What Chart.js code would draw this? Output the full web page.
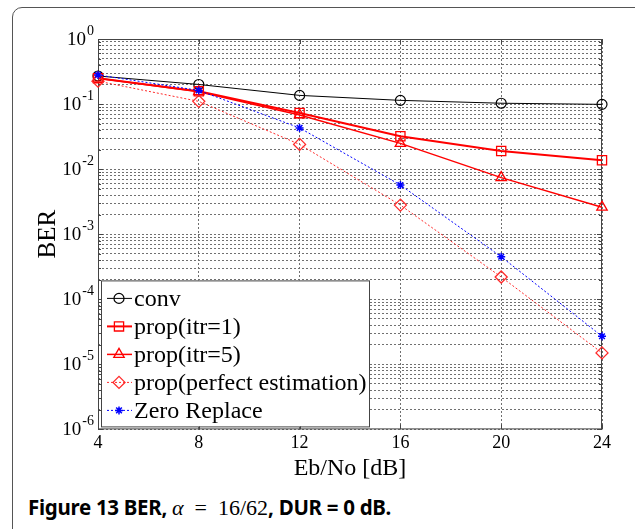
<!DOCTYPE html>
<html>
<head>
<meta charset="utf-8">
<script src="https://cdn.jsdelivr.net/npm/chart.js@4.4.0/dist/chart.umd.min.js"></script>
<style>
  html, body { margin: 0; padding: 0; background: #fff; }
  body { width: 635px; height: 529px; position: relative; overflow: hidden; }
  #frame { position: absolute; left: 12px; top: 7px; width: 700px; height: 540px; border: 1px solid #555; border-radius: 10px; }
  #wrap { position: absolute; left: 0; top: 0; width: 635px; height: 485px; }
  #caption { position: absolute; left: 28px; top: 493px; font-family: 'Noto Sans', sans-serif; font-weight: bold; font-size: 20.5px; color: #000; white-space: nowrap; letter-spacing: -0.3px; }
  #caption .m { font-family: 'Liberation Serif', serif; font-weight: normal; font-size: 22px; letter-spacing: 0; }
</style>
</head>
<body>
<div id="frame"></div>
<div id="wrap"><canvas id="berChart" width="635" height="485"></canvas></div>
<div id="caption">Figure 13 BER, <span class="m"><i>α</i>&nbsp;&nbsp;=&nbsp;&nbsp;16/62</span>, DUR = 0 dB.</div>
<script>
// Eb/No points and BER per scheme
const ebNo = [4, 8, 12, 16, 20, 24];
const berConv = [0.27, 0.20, 0.136, 0.114, 0.103, 0.099];
const berItr1 = [0.25, 0.157, 0.073, 0.032, 0.019, 0.0137];
const berItr5 = [0.25, 0.155, 0.068, 0.0249, 0.0074, 0.0026];
const berPerfect = [0.225, 0.11, 0.024, 0.0028, 0.00022, 0.000015];
const berZero = [0.28, 0.162, 0.043, 0.0057, 0.00045, 0.000027];
const seriesNames = ['conv', 'prop(itr=1)', 'prop(itr=5)', 'prop(perfect estimation)', 'Zero Replace'];
const yDecades = [-6, -5, -4, -3, -2, -1, 0];

const toPoints = vals => ebNo.map((x, i) => ({x: x, y: vals[i]}));
const serif = 'Liberation Serif';
const gridColor = '#707070';

function series(i, vals, color, width, dash, style, radius, pbw) {
    return {
        label: seriesNames[i],
        data: toPoints(vals),
        borderColor: color,
        borderWidth: width,
        borderDash: dash,
        pointStyle: style,
        pointRadius: radius,
        pointBorderWidth: pbw,
        pointBorderColor: color,
        pointBackgroundColor: 'rgba(0,0,0,0)',
        tension: 0,
        clip: false,
        order: 5 - i
    };
}

// axis box, inward ticks, y labels, legend
const decor = {
    id: 'decor',
    beforeDatasetsDraw(chart) {
        const {ctx, chartArea: a, scales: {x, y}} = chart;
        ctx.save();
        ctx.strokeStyle = '#444';
        ctx.lineWidth = 1;
        ctx.strokeRect(a.left + 0.5, a.top + 0.5, a.right - a.left - 1, a.bottom - a.top - 1);
        ctx.beginPath();
        x.ticks.forEach(t => {
            const px = Math.round(x.getPixelForValue(t.value)) + 0.5;
            ctx.moveTo(px, a.bottom); ctx.lineTo(px, a.bottom - 5);
            ctx.moveTo(px, a.top); ctx.lineTo(px, a.top + 5);
        });
        y.ticks.forEach(t => {
            const py = Math.round(y.getPixelForValue(t.value)) + 0.5;
            const len = t.major ? 5 : 3;
            ctx.moveTo(a.left, py); ctx.lineTo(a.left + len, py);
            ctx.moveTo(a.right, py); ctx.lineTo(a.right - len, py);
        });
        ctx.stroke();
        ctx.restore();
    },
    afterDraw(chart) {
        const {ctx, chartArea: a, scales: {y}} = chart;
        ctx.save();
        ctx.fillStyle = '#000';
        ctx.textBaseline = 'alphabetic';
        // y tick labels 10^n
        yDecades.forEach(e => {
            const py = y.getPixelForValue(Math.pow(10, e));
            ctx.font = '14px ' + serif;
            ctx.textAlign = 'right';
            const exp = String(e);
            const ew = ctx.measureText(exp).width;
            ctx.fillText(exp, a.left - 4, py - 4);
            ctx.font = '19px ' + serif;
            ctx.fillText('10', a.left - 5 - ew, py + 6);
        });
        // y title
        ctx.save();
        ctx.translate(a.left - 50, (a.top + a.bottom) / 2);
        ctx.rotate(-Math.PI / 2);
        ctx.textAlign = 'center';
        ctx.textBaseline = 'middle';
        ctx.font = '25px ' + serif;
        ctx.fillText('BER', 0, 0);
        ctx.restore();

        // legend box in lower-left corner
        const lx = a.left + 3, lw = 268, lh = 146;
        const ly = a.bottom - 3 - lh;
        ctx.fillStyle = '#fff';
        ctx.fillRect(lx, ly, lw, lh);
        ctx.strokeStyle = '#444';
        ctx.lineWidth = 1;
        ctx.strokeRect(lx + 0.5, ly + 0.5, lw, lh);
        chart.data.datasets.forEach((ds, i) => {
            const cy = ly + 18 + i * 28;
            ctx.save();
            ctx.strokeStyle = ds.borderColor;
            ctx.lineWidth = ds.borderWidth;
            ctx.setLineDash(ds.borderDash || []);
            ctx.beginPath();
            ctx.moveTo(lx + 6, cy);
            ctx.lineTo(lx + 31, cy);
            ctx.stroke();
            ctx.setLineDash([]);
            ctx.lineWidth = ds.pointBorderWidth;
            ctx.fillStyle = 'rgba(0,0,0,0)';
            Chart.helpers.drawPoint(ctx, {
                pointStyle: ds.pointStyle, radius: ds.pointRadius,
                borderWidth: ds.pointBorderWidth, rotation: 0
            }, lx + 18, cy);
            ctx.restore();
            ctx.fillStyle = '#000';
            ctx.font = '24px ' + serif;
            ctx.textAlign = 'left';
            ctx.textBaseline = 'middle';
            ctx.fillText(ds.label, lx + 33, cy + 1);
        });
        ctx.restore();
    }
};

const ctx = document.getElementById('berChart').getContext('2d');
const berChart = new Chart(ctx, {
    type: 'line',
    data: {
        datasets: [
            series(0, berConv, '#000000', 1, [], 'circle', 5, 1.2),
            series(1, berItr1, '#ff0000', 2, [], 'rect', 6.5, 1.3),
            series(2, berItr5, '#ff0000', 1.5, [], 'triangle', 6, 1.3),
            series(3, berPerfect, '#ff2a2a', 1, [2, 2], 'rectRot', 6, 1.3),
            series(4, berZero, '#0000ff', 1, [2, 2], 'star', 4, 1.5)
        ]
    },
    options: {
        responsive: false,
        animation: false,
        layout: { padding: { left: 98, top: 39, right: 33, bottom: 4 } },
        plugins: { legend: { display: false }, tooltip: { enabled: false } },
        scales: {
            x: {
                type: 'linear',
                min: 4,
                max: 24,
                ticks: { stepSize: 4, color: '#000', padding: 3, font: { family: serif, size: 18 } },
                grid: { color: gridColor, drawTicks: false },
                border: { display: false, dash: [2, 2] },
                title: {
                    display: true, text: 'Eb/No [dB]', color: '#000',
                    font: { family: serif, size: 24, lineHeight: 1 },
                    padding: { top: 0, bottom: 0 }
                }
            },
            y: {
                type: 'logarithmic',
                min: 1e-6,
                max: 1,
                afterBuildTicks: scale => {
                    const t = [];
                    yDecades.forEach(e => {
                        for (let m = 1; m <= 9; m++) {
                            const v = m * Math.pow(10, e);
                            if (v <= 1) t.push({value: v, major: m === 1});
                        }
                    });
                    scale.ticks = t;
                },
                ticks: { display: false },
                grid: { color: gridColor, drawTicks: false },
                border: { display: false, dash: [2, 2] }
            }
        }
    },
    plugins: [decor]
});
</script>
</body>
</html>
